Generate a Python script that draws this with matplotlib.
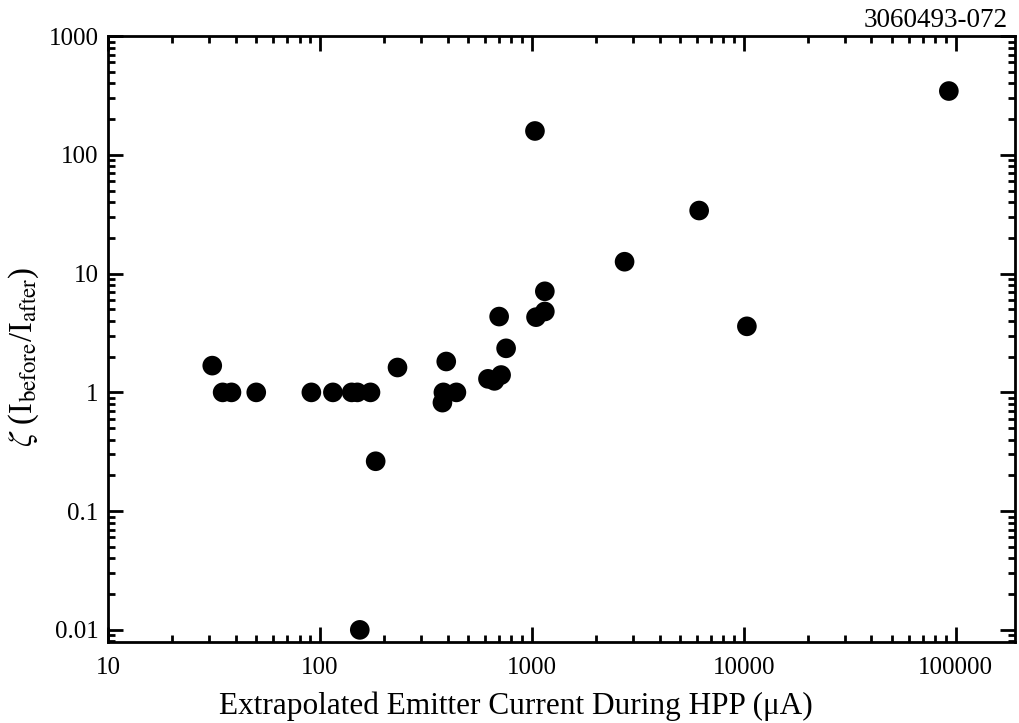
import matplotlib

matplotlib.use("Agg")
import matplotlib.pyplot as plt
from matplotlib.ticker import FixedLocator, FixedFormatter, LogLocator, NullFormatter

plt.rcParams["font.family"] = ["Liberation Serif", "DejaVu Serif"]
plt.rcParams["mathtext.fontset"] = "stix"

# emitter current during HPP (uA) and zeta = I_before / I_after
current = [31, 34.7, 38.2, 50, 91, 115, 141, 150, 173, 154, 183,
           232, 394, 382, 440, 378, 620, 665, 715, 700, 755,
           1033, 1045, 1150, 1150, 2735, 6150, 10330, 92700]
zeta = [1.68, 1.0, 1.0, 1.0, 1.0, 1.0, 1.0, 1.0, 1.0, 0.01, 0.263,
        1.62, 1.82, 1.0, 1.0, 0.82, 1.3, 1.25, 1.4, 4.35, 2.35,
        159, 4.3, 4.8, 7.1, 12.6, 34, 3.6, 345]

x_ticks = [10, 100, 1000, 10000, 100000]
x_labels = ["10", "100", "1000", "10000", "100000"]
y_ticks = [0.01, 0.1, 1, 10, 100, 1000]
y_labels = ["0.01", "0.1", "1", "10", "100", "1000"]

fig = plt.figure(figsize=(10.2, 7.23), dpi=100)
ax = fig.add_axes([0.106, 0.112, 0.889, 0.838])

ax.scatter(current, zeta, s=200, color="black", edgecolors="none", zorder=3)

ax.set_xscale("log")
ax.set_yscale("log")
ax.set_xlim(10, 1.9e5)
ax.set_ylim(0.0079, 1000)

ax.xaxis.set_major_locator(FixedLocator(x_ticks))
ax.xaxis.set_major_formatter(FixedFormatter(x_labels))
ax.yaxis.set_major_locator(FixedLocator(y_ticks))
ax.yaxis.set_major_formatter(FixedFormatter(y_labels))
ax.xaxis.set_minor_locator(LogLocator(base=10, subs=range(2, 10), numticks=20))
ax.yaxis.set_minor_locator(LogLocator(base=10, subs=range(2, 10), numticks=20))
ax.xaxis.set_minor_formatter(NullFormatter())
ax.yaxis.set_minor_formatter(NullFormatter())

ax.tick_params(which="both", direction="in", top=True, right=True,
               labelsize=18, color="black")
ax.tick_params(axis="x", which="major", pad=11)
ax.tick_params(axis="y", which="major", pad=7)
ax.tick_params(which="major", length=11, width=2)
ax.tick_params(which="minor", length=5, width=2)
for sp in ax.spines.values():
    sp.set_linewidth(2)

ax.set_xlabel("Extrapolated Emitter Current During HPP (\u03bcA)", fontsize=22.5)
ax.xaxis.set_label_coords(0.45, -0.082)
ax.set_ylabel(r"$\zeta$ (I$_{\rm before}$/I$_{\rm after}$)", fontsize=23.5)
ax.yaxis.set_label_coords(-0.074, 0.47)

fig.text(0.988, 0.962, "3060493-072", ha="right", va="baseline", fontsize=19.5)

fig.savefig("out.png", dpi=100)
